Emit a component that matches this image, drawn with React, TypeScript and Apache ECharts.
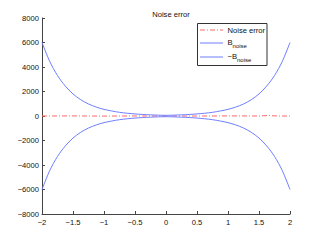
import React, { useEffect, useRef } from "react";
import * as echarts from "echarts";

const xValues = [-2, -1.875, -1.75, -1.625, -1.5, -1.375, -1.25, -1.125, -1, -0.875, -0.75, -0.625, -0.5, -0.375, -0.25, -0.125, 0, 0.125, 0.25, 0.375, 0.5, 0.625, 0.75, 0.875, 1, 1.125, 1.25, 1.375, 1.5, 1.625, 1.75, 1.875, 2];
const bNoise = [6000, 4450, 3300, 2450, 1800, 1330, 980, 730, 540, 410, 300, 225, 170, 125, 95, 70, 55, 70, 95, 125, 170, 225, 300, 410, 540, 730, 980, 1330, 1800, 2450, 3300, 4450, 6000];
const noiseX = [-2, -1.5, -1, -0.5, 0, 0.5, 1, 1.5, 1.65, 1.8, 2];
const noiseErr = [0, 10, -10, 5, 0, -5, 10, 0, 40, 0, 0];
const xTicks = { min: -2, max: 2, step: 0.5 };
const yTicks = { min: -8000, max: 8000, step: 2000 };

const FONT = "Liberation Sans";
const fmt = (v: number) => String(v).replace("-", "\u2212");

export default function App() {
  const ref = useRef<HTMLDivElement>(null);
  useEffect(() => {
    const chart = echarts.init(ref.current!, null, { renderer: "svg" });
    const axisCommon = {
      axisLine: { show: true, onZero: false, lineStyle: { color: "#444", width: 1 } },
      axisTick: { show: true, inside: true, length: 3, lineStyle: { color: "#444" } },
      splitLine: { show: false },
      axisLabel: { color: "#111", fontSize: 7.6, fontFamily: FONT, formatter: fmt },
    };
    chart.setOption({
      animation: false,
      title: {
        text: "Noise error",
        left: 166,
        textAlign: "center",
        top: 5,
        textStyle: { fontSize: 7.6, fontWeight: "normal", color: "#111", fontFamily: FONT },
      },
      grid: { left: 42, right: 31, top: 18, bottom: 28 },
      xAxis: {
        type: "value",
        min: xTicks.min,
        max: xTicks.max,
        interval: xTicks.step,
        ...axisCommon,
        axisLabel: { ...axisCommon.axisLabel, margin: 4 },
      },
      yAxis: {
        type: "value",
        min: yTicks.min,
        max: yTicks.max,
        interval: yTicks.step,
        ...axisCommon,
        axisLabel: { ...axisCommon.axisLabel, margin: 3 },
      },
      series: [
        {
          type: "line",
          name: "Noise error",
          data: noiseX.map((x, i) => [x, noiseErr[i]]),
          showSymbol: false,
          lineStyle: { color: "#ff6a6a", width: 1, type: [5, 2, 1, 2] },
        },
        {
          type: "line",
          name: "Bnoise",
          data: xValues.map((x, i) => [x, bNoise[i]]),
          smooth: 0.3,
          showSymbol: false,
          lineStyle: { color: "#6f7fff", width: 1 },
        },
        {
          type: "line",
          name: "-Bnoise",
          data: xValues.map((x, i) => [x, -bNoise[i]]),
          smooth: 0.3,
          showSymbol: false,
          lineStyle: { color: "#6f7fff", width: 1 },
        },
      ],
      graphic: [
        {
          type: "rect",
          shape: { x: 197.5, y: 23.5, width: 69.5, height: 42 },
          style: { fill: "#fff", stroke: "#333", lineWidth: 1 },
          z: 10,
        },
        {
          type: "line",
          shape: { x1: 200, y1: 30, x2: 223, y2: 30 },
          style: { stroke: "#ff6a6a", lineWidth: 1, lineDash: [5, 2, 1, 2] },
          z: 11,
        },
        {
          type: "line",
          shape: { x1: 200, y1: 43, x2: 223, y2: 43 },
          style: { stroke: "#6f7fff", lineWidth: 1 },
          z: 11,
        },
        {
          type: "line",
          shape: { x1: 200, y1: 57, x2: 223, y2: 57 },
          style: { stroke: "#6f7fff", lineWidth: 1 },
          z: 11,
        },
        {
          type: "text",
          x: 227.5,
          y: 30,
          style: {
            text: "Noise error",
            fontSize: 7.6,
            fontFamily: FONT,
            fill: "#111",
            verticalAlign: "middle",
          },
          z: 11,
        },
        {
          type: "text",
          x: 227.5,
          y: 36,
          style: {
            text: "B{s|noise}",
            fontSize: 7.6,
            fontFamily: FONT,
            fill: "#111",
            verticalAlign: "top",
            rich: { s: { fontSize: 6, fontFamily: FONT, fill: "#111", padding: [7, 0, 0, 0] } },
          },
          z: 11,
        },
        {
          type: "text",
          x: 227.5,
          y: 50,
          style: {
            text: "\u2212B{s|noise}",
            fontSize: 7.6,
            fontFamily: FONT,
            fill: "#111",
            verticalAlign: "top",
            rich: { s: { fontSize: 6, fontFamily: FONT, fill: "#111", padding: [7, 0, 0, 0] } },
          },
          z: 11,
        },
      ],
    });
    return () => chart.dispose();
  }, []);
  return <div ref={ref} style={{ width: 321, height: 242, position: "absolute", left: 0, top: 0 }} />;
}
